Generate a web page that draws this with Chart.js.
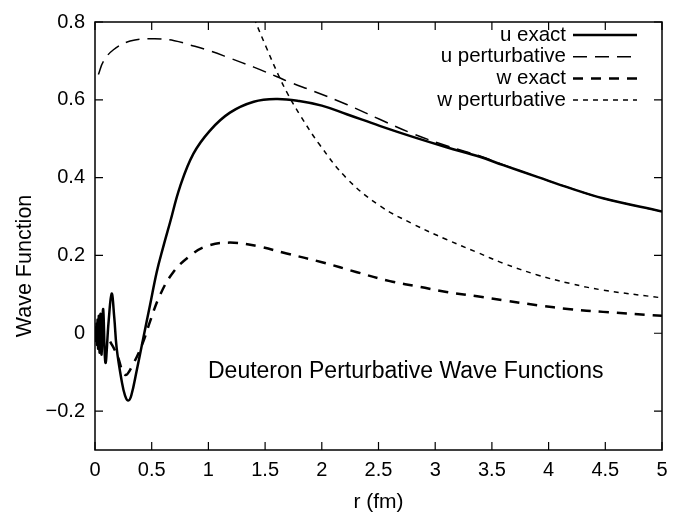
<!DOCTYPE html>
<html><head><meta charset="utf-8">
<script src="https://cdn.jsdelivr.net/npm/chart.js@4"></script>
<style>html,body{margin:0;padding:0;background:#fff}</style>
</head><body>
<canvas id="c" width="690" height="515"></canvas>
<script>
// ---- data ----
const uExactR = [0, 0.006, 0.010, 0.014, 0.018, 0.023, 0.028, 0.034, 0.041, 0.049, 0.058, 0.072, 0.092, 0.12, 0.147, 0.17, 0.191, 0.235, 0.265, 0.294, 0.32, 0.367, 0.426, 0.485, 0.544, 0.6, 0.661, 0.75, 0.867, 1.014, 1.19, 1.40, 1.6, 1.8, 2.0, 2.22, 2.51, 2.81, 3.10, 3.40, 3.60, 3.90, 4.19, 4.48, 5.0];
const uExactV = [0, 0.015, -0.02, 0.025, -0.03, 0.035, -0.04, 0.045, -0.05, 0.05, -0.055, 0.062, -0.076, 0.03, 0.102, 0.04, -0.038, -0.122, -0.16, -0.173, -0.16, -0.097, -0.012, 0.072, 0.157, 0.22, 0.284, 0.377, 0.461, 0.521, 0.567, 0.595, 0.602, 0.597, 0.585, 0.563, 0.533, 0.504, 0.478, 0.453, 0.432, 0.402, 0.373, 0.347, 0.313];

const uPertR = [0.03, 0.073, 0.16, 0.31, 0.514, 0.7, 0.838, 1.0, 1.19, 1.4, 1.6, 1.72, 1.93, 2.22, 2.51, 2.81, 3.10, 3.40, 3.6, 3.9, 4.19, 4.48, 5.0];
const uPertV = [0.665, 0.698, 0.728, 0.751, 0.757, 0.752, 0.741, 0.727, 0.707, 0.684, 0.660, 0.645, 0.622, 0.588, 0.550, 0.512, 0.482, 0.455, 0.433, 0.402, 0.373, 0.347, 0.313];

const wExactR = [0, 0.1, 0.15, 0.2, 0.265, 0.338, 0.426, 0.485, 0.573, 0.69, 0.838, 0.985, 1.19, 1.43, 1.69, 2.01, 2.31, 2.60, 2.87, 3.10, 3.37, 3.60, 3.90, 4.19, 4.48, 5.0];
const wExactV = [0, -0.01, -0.03, -0.06, -0.107, -0.078, -0.021, 0.03, 0.098, 0.157, 0.199, 0.224, 0.233, 0.224, 0.205, 0.182, 0.157, 0.134, 0.119, 0.106, 0.095, 0.085, 0.072, 0.062, 0.055, 0.045];

const wPertR = [1.2, 1.3, 1.41, 1.51, 1.62, 1.70, 1.81, 1.98, 2.22, 2.51, 2.81, 3.10, 3.37, 3.6, 3.9, 4.19, 4.48, 5.0];
const wPertV = [0.98, 0.89, 0.805, 0.735, 0.662, 0.615, 0.560, 0.485, 0.398, 0.328, 0.280, 0.241, 0.208, 0.180, 0.150, 0.128, 0.111, 0.091];

const seriesNames = ['u exact', 'u perturbative', 'w exact', 'w perturbative'];

const xTickValues = [0, 0.5, 1, 1.5, 2, 2.5, 3, 3.5, 4, 4.5, 5];
const xTickLabels = ['0', '0.5', '1', '1.5', '2', '2.5', '3', '3.5', '4', '4.5', '5'];
const yTickValues = [-0.2, 0, 0.2, 0.4, 0.6, 0.8];
const yTickLabels = ['\u22120.2', '0', '0.2', '0.4', '0.6', '0.8'];

const xTitle = 'r (fm)';
const yTitle = 'Wave Function';
const innerTitle = 'Deuteron Perturbative Wave Functions';

// ---- build ----
const pts = (rs, vs) => rs.map((r, i) => ({x: r, y: vs[i]}));
const FONT = "'Liberation Sans', Arial, sans-serif";

const styles = [
  {borderWidth: 2.5, borderDash: []},
  {borderWidth: 1.5, borderDash: [14, 8]},
  {borderWidth: 2.5, borderDash: [10, 8]},
  {borderWidth: 1.5, borderDash: [5, 5]}
];
const sets = [pts(uExactR, uExactV), pts(uPertR, uPertV), pts(wExactR, wExactV), pts(wPertR, wPertV)];

const datasets = sets.map((d, i) => Object.assign({
  label: seriesNames[i],
  data: d,
  borderColor: '#000',
  backgroundColor: '#000',
  pointRadius: 0,
  fill: false,
  tension: 0.4,
  borderCapStyle: 'butt'
}, styles[i]));

const framePlugin = {
  id: 'frame',
  afterDatasetsDraw(chart) {
    const {ctx, chartArea: a, scales} = chart;
    const xs = scales.x, ys = scales.y;
    ctx.save();
    ctx.setLineDash([]);
    ctx.strokeStyle = '#000';
    ctx.lineWidth = 1.5;
    ctx.strokeRect(a.left, a.top, a.right - a.left, a.bottom - a.top);
    const tl = 8;
    ctx.lineWidth = 1.2;
    ctx.beginPath();
    xTickValues.forEach(v => {
      const px = xs.getPixelForValue(v);
      ctx.moveTo(px, a.bottom); ctx.lineTo(px, a.bottom - tl);
      ctx.moveTo(px, a.top); ctx.lineTo(px, a.top + tl);
    });
    yTickValues.forEach(v => {
      const py = ys.getPixelForValue(v);
      ctx.moveTo(a.left, py); ctx.lineTo(a.left + tl, py);
      ctx.moveTo(a.right, py); ctx.lineTo(a.right - tl, py);
    });
    ctx.stroke();

    // legend (text right-aligned, line sample to the right)
    ctx.fillStyle = '#000';
    ctx.font = '20.5px ' + FONT;
    ctx.textAlign = 'right';
    ctx.textBaseline = 'middle';
    chart.data.datasets.forEach((ds, i) => {
      const y = 35 + 21.7 * i;
      ctx.fillText(ds.label, 566, y);
      ctx.lineWidth = ds.borderWidth;
      ctx.setLineDash(ds.borderDash || []);
      ctx.beginPath();
      ctx.moveTo(573, y); ctx.lineTo(637, y);
      ctx.stroke();
    });
    ctx.setLineDash([]);

    // inner title
    ctx.font = '23px ' + FONT;
    ctx.textAlign = 'left';
    ctx.fillText(innerTitle, 208, 372);

    // y axis title (placed lower than the plot centre, as in the reference)
    ctx.font = '21.5px ' + FONT;
    ctx.textAlign = 'center';
    ctx.translate(25, 266);
    ctx.rotate(-Math.PI / 2);
    ctx.fillText(yTitle, 0, 0);
    ctx.restore();
  }
};

new Chart(document.getElementById('c'), {
  type: 'line',
  data: {datasets},
  plugins: [framePlugin],
  options: {
    responsive: false,
    animation: false,
    devicePixelRatio: 1,
    layout: {padding: {left: 0, right: 28, top: 17, bottom: 0}},
    plugins: {legend: {display: false}, tooltip: {enabled: false}},
    scales: {
      x: {
        type: 'linear', min: 0, max: 5,
        grid: {display: false, drawTicks: false},
        border: {display: false},
        afterBuildTicks: s => { s.ticks = xTickValues.map(v => ({value: v})); },
        afterFit: s => { s.height = 65; },
        ticks: {
          autoSkip: false, maxRotation: 0, padding: 8, color: '#000',
          font: {family: FONT, size: 20},
          callback: (v, i) => xTickLabels[i]
        },
        title: {display: true, text: xTitle, color: '#000', font: {family: FONT, size: 21}, padding: {top: 0, bottom: 0}}
      },
      y: {
        type: 'linear', min: -0.3, max: 0.8,
        grid: {display: false, drawTicks: false},
        border: {display: false},
        afterBuildTicks: s => { s.ticks = yTickValues.map(v => ({value: v})); },
        afterFit: s => { s.width = 95; },
        ticks: {
          autoSkip: false, padding: 10, color: '#000',
          font: {family: FONT, size: 20},
          callback: (v, i) => yTickLabels[i]
        },
        title: {display: false}
      }
    }
  }
});
</script>
</body></html>
